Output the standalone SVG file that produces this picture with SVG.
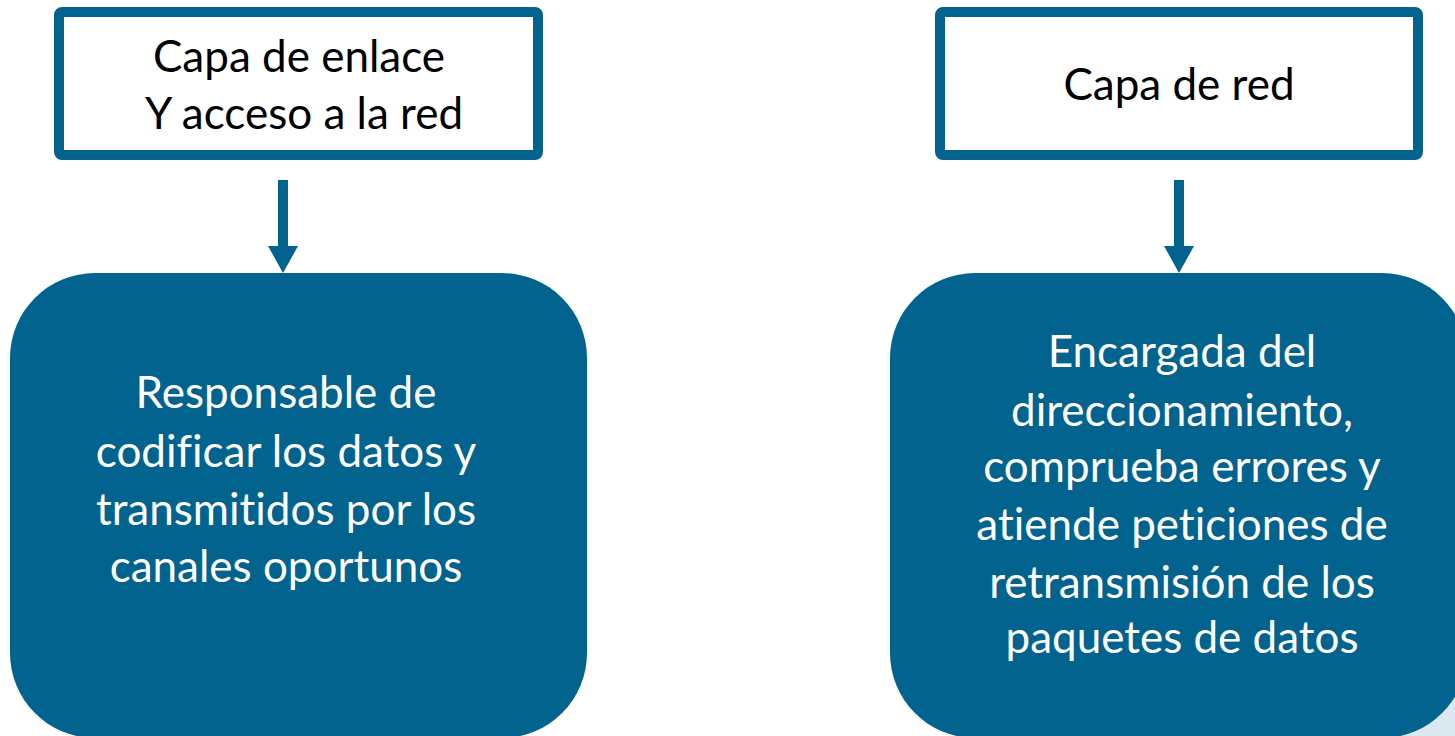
<svg xmlns="http://www.w3.org/2000/svg" width="1455" height="736" viewBox="0 0 1455 736">
<style>
.top{fill:#ffffff;stroke:#02638F;stroke-width:10}
.bot{fill:#02638F}
.tt{font-family:Lato,"Open Sans",sans-serif;font-size:44px;fill:#000;text-anchor:middle;font-variant-ligatures:none}
.bt{font-family:Lato,"Open Sans",sans-serif;font-size:44px;fill:#fff;text-anchor:middle;font-variant-ligatures:none}
.arr{fill:#02638F}
</style>
<rect x="0" y="0" width="1455" height="736" fill="#ffffff"/>
<rect x="1380" y="680" width="75" height="56" fill="#DCE8EF"/>
<g id="n1">
<rect class="top" x="59" y="12" width="479" height="143" rx="3"/>
<text class="tt" x="299" y="72">Capa de enlace</text>
<text class="tt" x="304" y="129">Y acceso a la red</text>
</g>
<g id="n2">
<rect class="top" x="940" y="12" width="478" height="143" rx="3"/>
<text class="tt" x="1179" y="100">Capa de red</text>
</g>
<g id="n3">
<rect class="bot" x="10" y="273" width="577" height="465" rx="85"/>
<text class="bt" x="286" y="408">Responsable de</text>
<text class="bt" x="286" y="467">codificar los datos y</text>
<text class="bt" x="286" y="525">transmitidos por los</text>
<text class="bt" x="286" y="582">canales oportunos</text>
</g>
<g id="n4">
<rect class="bot" x="890" y="273" width="577" height="465" rx="85"/>
<text class="bt" x="1182" y="367">Encargada del</text>
<text class="bt" x="1182" y="426">direccionamiento,</text>
<text class="bt" x="1182" y="482">comprueba errores y</text>
<text class="bt" x="1182" y="540">atiende peticiones de</text>
<text class="bt" x="1182" y="598">retransmisión de los</text>
<text class="bt" x="1182" y="653">paquetes de datos</text>
</g>
<g id="connectors">
<rect class="arr" x="278" y="180" width="10" height="67"/>
<polygon class="arr" points="268,246 298,246 283,273"/>
<rect class="arr" x="1174" y="180" width="10" height="67"/>
<polygon class="arr" points="1164,246 1194,246 1179,273"/>
</g>
</svg>
